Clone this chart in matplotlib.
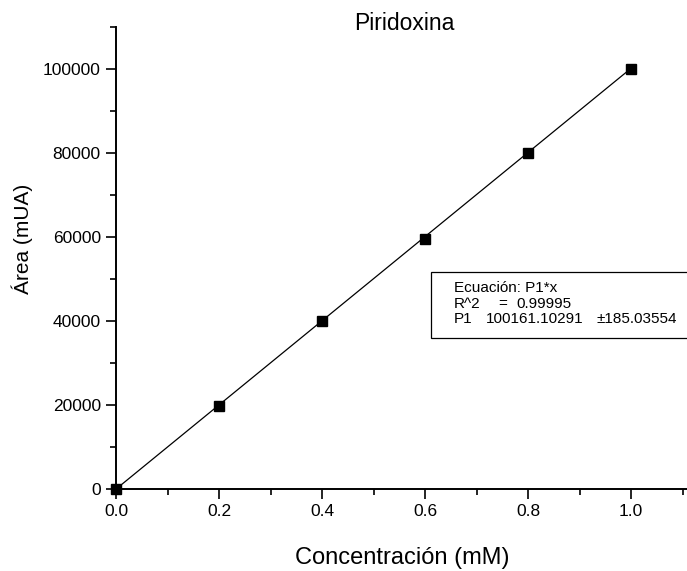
import numpy as np
import matplotlib
matplotlib.use("Agg")
import matplotlib.pyplot as plt
from matplotlib.patches import Rectangle
from matplotlib.ticker import MultipleLocator

plt.rcParams["font.family"] = ["Liberation Sans", "DejaVu Sans"]

# measured calibration points
conc = [0.0, 0.2, 0.4, 0.6, 0.8, 1.0]
area = [0, 19700, 39900, 59600, 80100, 100100]

# fitted model y = P1 * x
p1 = 100161.10291
p1_err = 185.03554
r2 = 0.99995
fit_x = [0.0, 1.0]

fig = plt.figure(figsize=(6.87, 5.71), dpi=100)
ax = fig.add_axes([0.169, 0.1436, 0.832, 0.8091])

ax.plot(fit_x, [p1 * v for v in fit_x], color="black", lw=0.9)
ax.plot(conc, area, ls="none", marker="s", ms=6.5, color="black", clip_on=False, zorder=3)

ax.set_xlim(0, 1.11)
ax.set_ylim(0, 110000)
ax.xaxis.set_major_locator(MultipleLocator(0.2))
ax.xaxis.set_minor_locator(MultipleLocator(0.1))
ax.yaxis.set_major_locator(MultipleLocator(20000))
ax.yaxis.set_minor_locator(MultipleLocator(10000))
ax.set_xticks([0, 0.2, 0.4, 0.6, 0.8, 1.0])
ax.set_xticklabels(["0.0", "0.2", "0.4", "0.6", "0.8", "1.0"])

for s in ["top", "right"]:
    ax.spines[s].set_visible(False)
for s in ["left", "bottom"]:
    ax.spines[s].set_linewidth(1.4)
ax.tick_params(which="major", direction="out", length=7, width=1.2, labelsize=12.5, pad=4)
ax.tick_params(which="minor", direction="out", length=4.5, width=1.2)

ax.set_xlabel("Concentración (mM)", fontsize=17, labelpad=20)
ax.set_ylabel("Área (mUA)", fontsize=15)
ax.yaxis.set_label_coords(-0.146, 0.541)
ax.set_title("Piridoxina", fontsize=16.5, y=1.0, pad=-2.2, x=0.505)

# fit results box
ax.add_patch(Rectangle((0.551, 0.327), 0.6, 0.143, transform=ax.transAxes,
                       facecolor="white", edgecolor="black", lw=0.9, clip_on=False, zorder=4))
fs = 11
ax.text(0.591, 0.435, "Ecuación: P1*x", transform=ax.transAxes, fontsize=fs, va="center", zorder=5)
ax.text(0.591, 0.401, "R^2", transform=ax.transAxes, fontsize=fs, va="center", zorder=5)
ax.text(0.668, 0.401, "=", transform=ax.transAxes, fontsize=fs, va="center", zorder=5)
ax.text(0.700, 0.401, f"{r2:.5f}", transform=ax.transAxes, fontsize=fs, va="center", zorder=5)
ax.text(0.591, 0.367, "P1", transform=ax.transAxes, fontsize=fs, va="center", zorder=5)
ax.text(0.647, 0.367, f"{p1:.5f}", transform=ax.transAxes, fontsize=fs, va="center", zorder=5)
ax.text(0.840, 0.367, f"±{p1_err:.5f}", transform=ax.transAxes, fontsize=fs, va="center", zorder=5)

fig.savefig("out.png", dpi=100)
